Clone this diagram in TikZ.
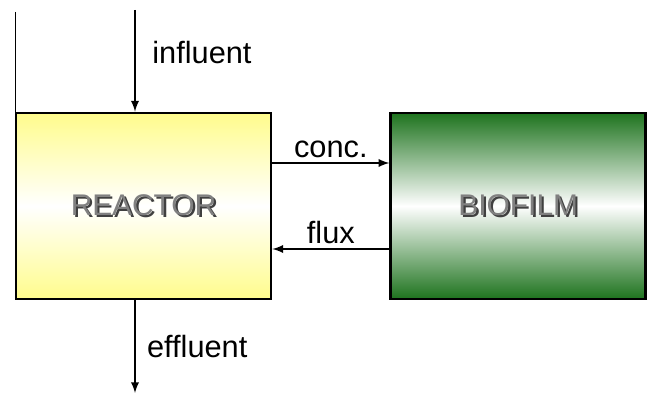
\documentclass[tikz,border=0pt]{standalone}
\usepackage{fontspec}
\setmainfont{Liberation Sans}
\usetikzlibrary{positioning}
\definecolor{reactoryellow}{RGB}{255,252,140}
\definecolor{biofilmgreen}{RGB}{30,115,30}
\newcommand{\shadedname}[1]{\makebox[0pt][l]{\hspace{1.2pt}\raisebox{-1.2pt}{\color{black!75}#1}}{\color{black!50}#1}}
\tikzset{
  unit/.style={draw,line width=1.6pt,minimum width=5.1cm,minimum height=3.72cm,
    font=\fontsize{17}{20}\selectfont},
  flow/.style={->,line width=1.1pt},
  lbl/.style={font=\fontsize{17.5}{21}\selectfont}
}
\begin{document}
\begin{tikzpicture}[x=0.02cm,y=-0.02cm,>=latex]
  \useasboundingbox (0,0) rectangle (650,394);
  \node[unit,top color=reactoryellow,bottom color=reactoryellow,middle color=white]
    (reactor) at (143.5,206) {\shadedname{REACTOR}};
  \node[unit,right=2.34cm of reactor,top color=biofilmgreen,bottom color=biofilmgreen,middle color=white]
    (biofilm) {\shadedname{BIOFILM}};
  \coordinate (in) at (135,10);
  \coordinate (out) at (135,393);
  \coordinate (edge) at (15,12);
  % thin line at the left edge
  \draw[line width=0.4pt] (edge) -- (edge |- reactor.west);
  \draw[flow] (in) -- (in |- reactor.north) node[lbl,pos=0.42,right=6pt] (inlbl) {influent};
  \draw[flow] (out |- reactor.south) -- (out) node[lbl,midway,right=3pt] (outlbl) {effluent};
  \draw[flow] ([yshift=0.86cm]reactor.east) -- ([yshift=0.86cm]biofilm.west)
    node[lbl,midway,above=-1pt] (conclbl) {conc.};
  \draw[flow] ([yshift=-0.86cm]biofilm.west) -- ([yshift=-0.86cm]reactor.east)
    node[lbl,midway,above=-1pt] (fluxlbl) {flux};
\end{tikzpicture}
\end{document}
